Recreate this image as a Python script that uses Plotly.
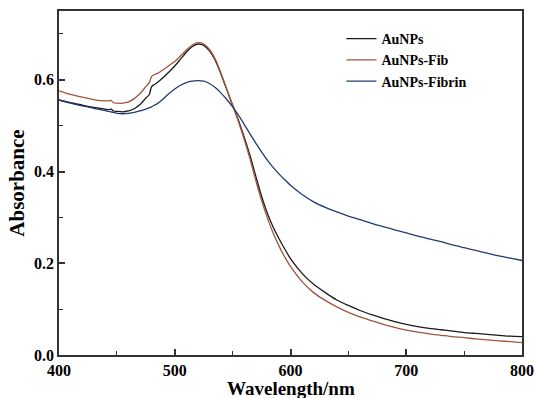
import plotly.graph_objects as go

wavelength = [400,410,420,430,440,443,445,447,450,455,460,465,470,475,478,480,482,485,490,495,
              500,505,510,515,520,525,530,535,540,545,550,555,560,565,570,575,580,585,590,595,
              600,610,620,630,640,650,660,670,680,690,700,710,720,730,740,750,760,770,780,790,800]

aunps = [0.556,0.550,0.545,0.540,0.536,0.535,0.536,0.532,0.531,0.530,0.532,0.537,0.546,0.560,0.568,0.585,0.589,0.594,0.605,0.617,
         0.630,0.645,0.660,0.672,0.678,0.675,0.663,0.642,0.612,0.578,0.545,0.512,0.475,0.435,0.390,0.346,0.309,0.279,0.254,0.231,
         0.210,0.178,0.154,0.136,0.120,0.108,0.097,0.088,0.080,0.073,0.067,0.062,0.058,0.055,0.052,0.049,0.047,0.045,0.043,0.041,0.040]

aunps_fib = [0.576,0.568,0.562,0.557,0.554,0.554,0.555,0.550,0.549,0.549,0.552,0.559,0.570,0.585,0.594,0.607,0.611,0.614,0.622,0.631,
             0.640,0.652,0.665,0.676,0.681,0.678,0.666,0.645,0.614,0.579,0.544,0.509,0.470,0.428,0.381,0.337,0.299,0.266,0.238,0.214,
             0.193,0.160,0.136,0.119,0.105,0.093,0.083,0.075,0.067,0.060,0.054,0.050,0.046,0.043,0.040,0.038,0.035,0.033,0.031,0.029,0.027]

aunps_fibrin = [0.556,0.549,0.543,0.538,0.533,0.531,0.530,0.529,0.527,0.526,0.527,0.529,0.532,0.536,0.539,0.541,0.544,0.548,0.558,0.570,
                0.580,0.588,0.594,0.597,0.598,0.597,0.592,0.583,0.571,0.557,0.541,0.523,0.503,0.482,0.462,0.443,0.425,0.409,0.395,0.382,
                0.370,0.350,0.334,0.322,0.312,0.303,0.295,0.287,0.280,0.273,0.266,0.259,0.253,0.247,0.240,0.234,0.228,0.222,0.216,0.211,0.206]

series_names = ["AuNPs", "AuNPs-Fib", "AuNPs-Fibrin"]
series_colors = ["#1a1a1a", "#a0553a", "#243a75"]

x_ticks = [400, 500, 600, 700, 800]
y_ticks = [0.0, 0.2, 0.4, 0.6]
x_title = "Wavelength/nm"
y_title = "Absorbance"

fig = go.Figure()
for name, ys, col in zip(series_names, [aunps, aunps_fib, aunps_fibrin], series_colors):
    fig.add_trace(go.Scatter(x=wavelength, y=ys, mode="lines", name=name,
                             line=dict(color=col, width=1.3, shape="spline", smoothing=0.6)))

font_family = "Liberation Serif"
axis_common = dict(
    showgrid=False, zeroline=False, showline=True, linecolor="#333333", linewidth=1.6,
    mirror=True, ticks="inside", ticklen=6, tickwidth=1.5, tickcolor="#333333",
    tickfont=dict(family=font_family, size=16, color="black", weight="bold"),
    automargin=False,
)

fig.update_xaxes(range=[400, 800], tickvals=x_ticks, ticktext=[str(v) for v in x_ticks],
                 ticklabeloverflow="allow",
                 minor=dict(ticks="inside", ticklen=4, tickwidth=1.3, tickcolor="#333333", dtick=50),
                 **axis_common)
fig.update_yaxes(range=[0, 0.75], tickvals=y_ticks, ticktext=[f"{v:.1f}" for v in y_ticks],
                 minor=dict(ticks="inside", ticklen=4, tickwidth=1.3, tickcolor="#333333", dtick=0.1),
                 title=dict(text=y_title, font=dict(family=font_family, size=21, color="black", weight="bold"), standoff=4),
                 **axis_common)

fig.add_annotation(text=x_title, xref="paper", yref="paper", x=0.5, y=-0.097, xanchor="center", yanchor="middle",
                   showarrow=False, font=dict(family=font_family, size=19, color="black", weight="bold"))

fig.update_layout(
    width=534, height=398,
    margin=dict(l=59, r=12, t=11, b=43),
    paper_bgcolor="white", plot_bgcolor="white",
    showlegend=True,
    legend=dict(x=0.61, y=0.965, xanchor="left", yanchor="top", bgcolor="rgba(0,0,0,0)",
                font=dict(family=font_family, size=14, color="black", weight="bold"),
                tracegroupgap=0, itemwidth=30),
)

fig.write_html("out.html", config={"displayModeBar": False},
               post_script="document.body.style.margin='0';document.body.style.overflow='hidden';")
